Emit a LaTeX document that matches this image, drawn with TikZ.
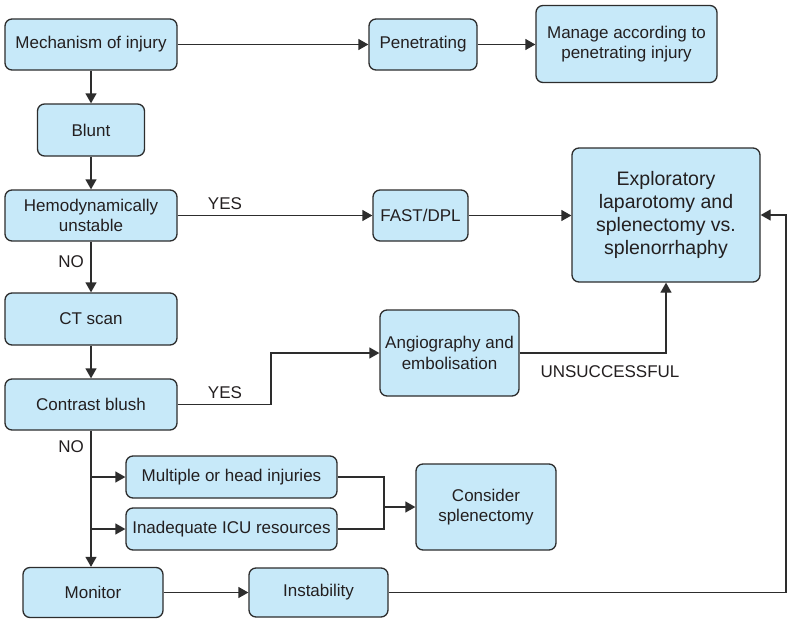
\documentclass[tikz,border=0pt]{standalone}
\usepackage{fontspec}
\setmainfont{Liberation Sans}
\usetikzlibrary{arrows.meta,calc}
\definecolor{boxfill}{RGB}{199,233,249}
\definecolor{linegray}{RGB}{45,45,45}
\definecolor{txt}{RGB}{35,31,32}
\begin{document}
\begin{tikzpicture}[x=1pt,y=-1pt,
  box/.style={draw=linegray,fill=boxfill,line width=1.3pt,rounded corners=7pt,
    align=center,text=txt,font=\fontsize{17}{20.3}\selectfont,inner sep=0pt},
  arr/.style={draw=linegray,line width=1.3pt,-{Triangle[length=10pt,width=11pt]}},
  ln/.style={draw=linegray,line width=1.3pt},
  lbl/.style={text=txt,font=\fontsize{17}{20.3}\selectfont,inner sep=0pt}]
\useasboundingbox (0,0) rectangle (789,618);
% nodes
\node[box,minimum width=172pt,minimum height=51pt] (mech) at (91,44.5) {Mechanism of injury};
\node[box,minimum width=107pt,minimum height=52pt] (blunt) at (91,130) {Blunt};
\node[box,minimum width=172pt,minimum height=51pt] (hemo) at (91,215.5) {Hemodynamically\\unstable};
\node[box,minimum width=172pt,minimum height=52pt] (ct) at (91,319) {CT scan};
\node[box,minimum width=172pt,minimum height=51pt] (contrast) at (91,404.5) {Contrast blush};
\node[box,minimum width=211pt,minimum height=42pt] (multi) at (231.5,477) {Multiple or head injuries};
\node[box,minimum width=211pt,minimum height=42pt] (icu) at (231.5,529) {Inadequate ICU resources};
\node[box,minimum width=140pt,minimum height=50pt] (monitor) at (93,592.5) {Monitor};
\node[box,minimum width=139pt,minimum height=49pt] (instab) at (318.5,592.5) {Instability};
\node[box,minimum width=108pt,minimum height=51pt] (penet) at (423,44.5) {Penetrating};
\node[box,minimum width=181pt,minimum height=77pt] (manage) at (626.5,44) {Manage according to\\penetrating injury};
\node[box,minimum width=95pt,minimum height=51pt] (fast) at (420.5,215.5) {FAST/DPL};
\node[box,minimum width=188pt,minimum height=134pt,font=\fontsize{19.5}{23.3}\selectfont] (explor) at (666,215) {Exploratory\\laparotomy and\\splenectomy vs.\\splenorrhaphy};
\node[box,minimum width=139pt,minimum height=86pt] (angio) at (449.5,353) {Angiography and\\embolisation};
\node[box,minimum width=140pt,minimum height=86pt] (consider) at (486,507) {Consider\\splenectomy};
% labels
\node[lbl] (yes1) at (225,204) {YES};
\node[lbl] (no1) at (71,262) {NO};
\node[lbl] (yes2) at (225,393) {YES};
\node[lbl] (no2) at (71,447) {NO};
\node[lbl] (uns) at (610,372) {UNSUCCESSFUL};
% connectors
\draw[arr] (mech) -- (penet);
\draw[arr] (penet.east) -- (penet.east -| manage.west);
\draw[arr] (mech) -- (blunt);
\draw[arr] (blunt) -- (hemo);
\draw[arr] (hemo) -- (fast);
\draw[arr] (fast.east) -- (fast.east -| explor.west);
\draw[arr] (hemo) -- (ct);
\draw[arr] (ct) -- (contrast);
\coordinate (turn) at (271,0);
\draw[arr] (contrast.east) -- (contrast.east -| turn) |- (angio.west);
\draw[arr] (angio.east) -| (explor.south);
\draw[arr] (contrast.south) -- (monitor.north -| contrast.south);
\draw[arr] (contrast.south |- multi.west) -- (multi.west);
\draw[arr] (contrast.south |- icu.west) -- (icu.west);
\coordinate (merge) at (384,0);
\draw[ln] (multi.east) -- (multi.east -| merge) |- (icu.east);
\draw[arr] (merge |- consider.west) -- (consider.west);
\draw[arr] (monitor.east |- instab.west) -- (instab.west);
\coordinate (rt) at (786,0);
\draw[arr] (instab.east) -- (instab.east -| rt) |- (explor.east);
\end{tikzpicture}
\end{document}
